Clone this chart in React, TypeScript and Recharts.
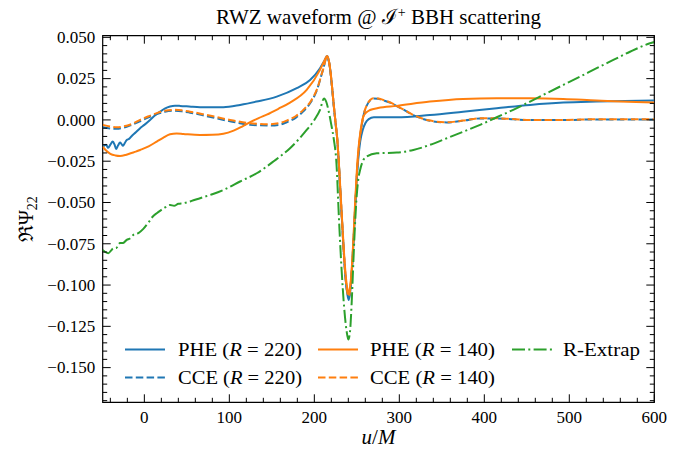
import React from 'react';
import { LineChart, Line, XAxis, YAxis, Legend, ReferenceArea } from 'recharts';

// ---------------- data ----------------
const phe220U = [-49, -45, -42.6, -40, -37.2, -35, -33.3, -31, -28.6, -27, -25.1, -23, -20.7, -18, -14.8, -10, -5, 0, 6.7, 12, 18.5, 24, 30.2, 36, 42, 55, 65.5, 80, 93, 112.6, 132, 155.8, 179.3, 195, 206.7, 212, 215, 217, 219, 221, 223, 225, 227, 229, 231, 233, 235, 237, 239, 240.5, 242, 244, 246, 248, 250, 252, 254, 257, 260, 264, 270, 297, 336, 375, 414.6, 453.8, 493, 532, 600];
const phe220V = [-0.0163, -0.0150, -0.0169, -0.0150, -0.0131, -0.0150, -0.0176, -0.0155, -0.0137, -0.0145, -0.0157, -0.0140, -0.0121, -0.0115, -0.0097, -0.0075, -0.0050, -0.0030, 0.0000, 0.0025, 0.0050, 0.0068, 0.0081, 0.0086, 0.0085, 0.0080, 0.0077, 0.0076, 0.0077, 0.0091, 0.0111, 0.0141, 0.0192, 0.0242, 0.0313, 0.0360, 0.0387, 0.0360, 0.0290, 0.0190, 0.0080, -0.0020, -0.0120, -0.0280, -0.0470, -0.0650, -0.0830, -0.0970, -0.1060, -0.1090, -0.1050, -0.0930, -0.0750, -0.0540, -0.0350, -0.0220, -0.0130, -0.0060, -0.0020, 0.0005, 0.0016, 0.0016, 0.0030, 0.0050, 0.0071, 0.0091, 0.0105, 0.0111, 0.0117];

const cce220U = [-49, -40, -32.5, -25, -15, -5, 5, 14.6, 24, 34, 44, 53.8, 73.4, 100.8, 124.4, 148, 160, 167.5, 178, 187, 196, 202.8, 210, 214.6, 217, 219, 221, 223, 225, 227, 229, 231, 233, 235, 237, 239, 240.5, 242, 244, 246, 248, 250, 252, 255, 258, 262, 266, 269.4, 275, 281, 290, 297, 306, 316.5, 326, 336, 355.8, 375, 395, 414.6, 434, 453.8, 493, 532, 600];
const cce220V = [-0.0045, -0.0052, -0.0054, -0.0048, -0.0030, -0.0008, 0.0015, 0.0035, 0.0049, 0.0055, 0.0052, 0.0044, 0.0023, -0.0008, -0.0030, -0.0034, -0.0028, -0.0014, 0.0012, 0.0052, 0.0108, 0.0177, 0.0300, 0.0375, 0.0355, 0.0290, 0.0190, 0.0080, -0.0020, -0.0120, -0.0280, -0.0470, -0.0650, -0.0830, -0.0970, -0.1050, -0.1075, -0.1040, -0.0920, -0.0740, -0.0530, -0.0340, -0.0190, -0.0060, 0.0030, 0.0090, 0.0120, 0.0129, 0.0128, 0.0119, 0.0103, 0.0084, 0.0059, 0.0029, 0.0009, -0.0005, -0.0015, -0.0005, 0.0009, 0.0009, 0.0004, -0.0001, -0.0001, 0.0003, 0.0003];

const phe140U = [-49, -45, -40, -34, -28.6, -22, -15, -10, -5, 5, 14.6, 22, 30.2, 38, 45.9, 65.5, 80, 93, 105, 115, 125, 135, 144, 158, 171.4, 191, 206.7, 212, 215, 217, 219, 221, 223, 225, 227, 229, 231, 233, 235, 237, 239, 240.5, 242, 244, 246, 248, 250, 252, 254, 257.6, 261, 265.5, 275, 297, 336, 375, 414.6, 453.8, 493, 532, 600];
const phe140V = [-0.0162, -0.0185, -0.0205, -0.0215, -0.0218, -0.0212, -0.0200, -0.0192, -0.0182, -0.0160, -0.0131, -0.0108, -0.0087, -0.0082, -0.0085, -0.0091, -0.0090, -0.0084, -0.0065, -0.0040, -0.0012, 0.0012, 0.0032, 0.0068, 0.0105, 0.0182, 0.0303, 0.0360, 0.0387, 0.0362, 0.0295, 0.0195, 0.0085, -0.0015, -0.0115, -0.0270, -0.0455, -0.0635, -0.0810, -0.0945, -0.1025, -0.1050, -0.1015, -0.0900, -0.0720, -0.0500, -0.0310, -0.0170, -0.0080, 0.0020, 0.0045, 0.0060, 0.0072, 0.0085, 0.0111, 0.0127, 0.0131, 0.0131, 0.0127, 0.0117, 0.0105];

const cce140U = [-49, -40, -32.5, -25, -15, -5, 5, 14.6, 24, 34, 44, 53.8, 73.4, 100.8, 124.4, 148, 160, 167.5, 178, 187, 196, 202.8, 210, 214.6, 217, 219, 221, 223, 225, 227, 229, 231, 233, 235, 237, 239, 240.5, 242, 244, 246, 248, 250, 252, 255, 258, 262, 266, 269.4, 275, 281, 290, 297, 306, 316.5, 326, 336, 355.8, 375, 395, 414.6, 434, 453.8, 493, 532, 600];
const cce140V = [-0.0030, -0.0040, -0.0044, -0.0040, -0.0025, 0.0000, 0.0022, 0.0041, 0.0055, 0.0061, 0.0058, 0.0050, 0.0030, 0.0000, -0.0020, -0.0026, -0.0018, -0.0004, 0.0022, 0.0061, 0.0115, 0.0182, 0.0300, 0.0373, 0.0355, 0.0290, 0.0190, 0.0080, -0.0020, -0.0120, -0.0280, -0.0470, -0.0650, -0.0830, -0.0970, -0.1050, -0.1070, -0.1035, -0.0915, -0.0735, -0.0525, -0.0335, -0.0185, -0.0055, 0.0032, 0.0092, 0.0122, 0.0131, 0.0130, 0.0121, 0.0105, 0.0085, 0.0060, 0.0030, 0.0010, -0.0004, -0.0014, -0.0004, 0.0010, 0.0010, 0.0005, 0.0000, 0.0000, 0.0004, 0.0004];

const extrapU = [-49, -46, -42.4, -39, -36.5, -33, -28.6, -25, -20.7, -17, -12.9, -7, -1.2, 5, 10, 14.6, 20, 25, 30.2, 35, 40, 45.9, 55, 65.5, 80, 93, 112.6, 132.2, 151.8, 171.4, 191, 200, 206.7, 211.4, 214, 217, 220, 223, 226, 229, 232, 235, 238, 240, 242, 244, 246, 248, 250, 252, 254, 258, 261.6, 273.4, 297, 316.5, 336, 355.8, 375.3, 395, 414.6, 434, 453.8, 473.4, 493, 512.6, 532.2, 551.8, 571.4, 594.9, 600];
const extrapV = [-0.0787, -0.0800, -0.0807, -0.0790, -0.0777, -0.0775, -0.0746, -0.0745, -0.0726, -0.0718, -0.0696, -0.0685, -0.0660, -0.0620, -0.0585, -0.0565, -0.0545, -0.0528, -0.0515, -0.0520, -0.0508, -0.0504, -0.0492, -0.0474, -0.0450, -0.0424, -0.0373, -0.0323, -0.0252, -0.0171, -0.0061, 0.0000, 0.0061, 0.0130, 0.0110, 0.0050, -0.0030, -0.0120, -0.0260, -0.0600, -0.0900, -0.1130, -0.1280, -0.1330, -0.1280, -0.1100, -0.0850, -0.0620, -0.0450, -0.0350, -0.0300, -0.0240, -0.0222, -0.0202, -0.0198, -0.0182, -0.0151, -0.0111, -0.0071, -0.0030, 0.0016, 0.0061, 0.0111, 0.0162, 0.0212, 0.0262, 0.0313, 0.0363, 0.0413, 0.0464, 0.0472];

const xMajorTicks = [0, 100, 200, 300, 400, 500, 600];
const yMajorTicks = [-0.15, -0.125, -0.1, -0.075, -0.05, -0.025, 0, 0.025, 0.05];
const xAllTicks = [-40, -20, 0, 20, 40, 60, 80, 100, 120, 140, 160, 180, 200, 220, 240, 260, 280, 300, 320, 340, 360, 380, 400, 420, 440, 460, 480, 500, 520, 540, 560, 580, 600];
const yAllTicks = Array.from({ length: 45 }, (_, i) => Math.round((i - 34) * 5) / 1000);

const titleParts = ['RWZ waveform @ ', 'ℐ', '+', ' BBH scattering'];
const legendNames = ['PHE', 'CCE', 'PHE', 'CCE', 'R-Extrap'];
const legendRadii = ['220', '220', '140', '140', ''];

// ---------------- layout / style ----------------
const W = 674;
const H = 444;
const MARGIN = { top: 27.7, right: 27.7, left: 0, bottom: 0 };
const Y_AXIS_W = 94.7;
const X_AXIS_H = 49.7;
const PLOT_W = W - Y_AXIS_W - MARGIN.right;
const PLOT_H = H - MARGIN.top - X_AXIS_H;
const X_DOMAIN: [number, number] = [-49, 600];
const Y_DOMAIN: [number, number] = [-0.171, 0.051];
const FONT = '"Liberation Serif", "DejaVu Serif", serif';
const BLUE = '#1f77b4';
const ORANGE = '#ff7f0e';
const GREEN = '#2ca02c';
const DASHED = '7.5 3.3';
const DASHDOT = '13 3.3 2 3.3';
const MAJOR_LEN = 8;
const MINOR_LEN = 4.5;

const rows = (u: number[], v: number[]) => u.map((x, i) => ({ u: x, v: v[i] }));

const series = [
  { key: 'phe220', data: rows(phe220U, phe220V), color: BLUE, dash: undefined as string | undefined },
  { key: 'cce220', data: rows(cce220U, cce220V), color: BLUE, dash: DASHED },
  { key: 'phe140', data: rows(phe140U, phe140V), color: ORANGE, dash: undefined },
  { key: 'cce140', data: rows(cce140U, cce140V), color: ORANGE, dash: DASHED },
  { key: 'extrap', data: rows(extrapU, extrapV), color: GREEN, dash: DASHDOT },
];

const isMajor = (list: number[], v: number) => list.some((t) => Math.abs(t - v) < 1e-9);
const fmtY = (v: number) => (v < 0 ? '\u2212' + Math.abs(v).toFixed(3) : v.toFixed(3));

const XTick = (props: any) => {
  const { x, y, payload } = props;
  const major = isMajor(xMajorTicks, payload.value);
  const len = major ? MAJOR_LEN : MINOR_LEN;
  const top = y - PLOT_H;
  return (
    <g>
      <line x1={x} x2={x} y1={y} y2={y - len} stroke="#000" strokeWidth={1} />
      <line x1={x} x2={x} y1={top} y2={top + len} stroke="#000" strokeWidth={1} />
      {major && (
        <text x={x} y={y + 20.5} textAnchor="middle" fontFamily={FONT} fontSize={17} fill="#000">
          {String(payload.value)}
        </text>
      )}
    </g>
  );
};

const YTick = (props: any) => {
  const { x, y, payload } = props;
  const major = isMajor(yMajorTicks, payload.value);
  const len = major ? MAJOR_LEN : MINOR_LEN;
  const right = x + PLOT_W;
  return (
    <g>
      <line x1={x} x2={x + len} y1={y} y2={y} stroke="#000" strokeWidth={1} />
      <line x1={right} x2={right - len} y1={y} y2={y} stroke="#000" strokeWidth={1} />
      {major && (
        <text x={x - 7.5} y={y + 5.8} textAnchor="end" fontFamily={FONT} fontSize={17} fill="#000">
          {fmtY(payload.value)}
        </text>
      )}
    </g>
  );
};

const XLabel = (props: any) => {
  const vb = props.viewBox || {};
  const cx = vb.x + vb.width / 2;
  return (
    <text x={cx} y={vb.y + 42} textAnchor="middle" fontFamily={FONT} fontSize={21} fill="#000">
      <tspan fontStyle="italic">u</tspan>/<tspan fontStyle="italic">M</tspan>
    </text>
  );
};

const YLabel = (props: any) => {
  const vb = props.viewBox || {};
  const cy = vb.y + vb.height / 2;
  const x0 = 25;
  return (
    <text x={x0} y={cy} transform={`rotate(-90 ${x0} ${cy})`} textAnchor="middle" fontFamily={FONT} fontSize={20} fill="#000">
      {'\u211C\u03A8'}
      <tspan fontSize={14} dy={4}>22</tspan>
    </text>
  );
};

const legendPos = [
  { lx: 117, tx: 170, ty: 341.5, tw: 124 },
  { lx: 117, tx: 170, ty: 369.5, tw: 124 },
  { lx: 310, tx: 362, ty: 341.5, tw: 125 },
  { lx: 310, tx: 362, ty: 369.5, tw: 125 },
  { lx: 504, tx: 555, ty: 341.5, tw: 77 },
];

const LegendContent = () => (
  <svg width={W} height={H} style={{ position: 'absolute', left: 0, top: 0 }}>
    {series.map((s, i) => {
      const p = legendPos[i];
      return (
        <g key={s.key}>
          <line x1={p.lx} x2={p.lx + 40} y1={p.ty} y2={p.ty} stroke={s.color} strokeWidth={2} strokeDasharray={s.dash} />
          <text x={p.tx} y={p.ty + 6} fontFamily={FONT} fontSize={18} fill="#000" textLength={p.tw} lengthAdjust="spacingAndGlyphs">
            {legendRadii[i] ? (
              <>
                {legendNames[i]} (<tspan fontStyle="italic">R</tspan> = {legendRadii[i]})
              </>
            ) : (
              legendNames[i]
            )}
          </text>
        </g>
      );
    })}
  </svg>
);

export default function App() {
  return (
    <div style={{ width: W, height: H, position: 'relative' }}>
      <svg width={W} height={28} style={{ position: 'absolute', left: 0, top: 0, overflow: 'visible' }}>
        <text x={Y_AXIS_W + PLOT_W / 2} y={16} textAnchor="middle" fontFamily={FONT} fontSize={21} fill="#000">
          {titleParts[0]}
          {titleParts[1]}
          <tspan fontSize={14} baselineShift="super">{titleParts[2]}</tspan>
          <tspan>{titleParts[3]}</tspan>
        </text>
      </svg>
      <LineChart width={W} height={H} margin={MARGIN}>
        <XAxis
          xAxisId="x"
          dataKey="u"
          type="number"
          domain={X_DOMAIN}
          allowDataOverflow
          ticks={xAllTicks}
          interval={0}
          tickSize={0}
          tickMargin={0}
          tickLine={false}
          axisLine={false}
          height={X_AXIS_H}
          tick={<XTick />}
          label={<XLabel />}
        />
        <YAxis
          yAxisId="y"
          type="number"
          domain={Y_DOMAIN}
          allowDataOverflow
          ticks={yAllTicks}
          interval={0}
          tickSize={0}
          tickMargin={0}
          tickLine={false}
          axisLine={false}
          width={Y_AXIS_W}
          tick={<YTick />}
          label={<YLabel />}
        />
        {series.map((s) => (
          <Line
            key={s.key}
            xAxisId="x"
            yAxisId="y"
            data={s.data}
            dataKey="v"
            type="monotone"
            stroke={s.color}
            strokeWidth={2}
            strokeDasharray={s.dash}
            dot={false}
            activeDot={false}
            isAnimationActive={false}
          />
        ))}
        <ReferenceArea
          xAxisId="x"
          yAxisId="y"
          x1={X_DOMAIN[0]}
          x2={X_DOMAIN[1]}
          y1={Y_DOMAIN[0]}
          y2={Y_DOMAIN[1]}
          fill="none"
          fillOpacity={0}
          stroke="#000"
          strokeWidth={1.2}
          ifOverflow="visible"
        />
        <Legend
          layout="horizontal"
          verticalAlign="middle"
          align="center"
          content={<LegendContent />}
          wrapperStyle={{ position: 'absolute', left: 0, top: 0, width: W, height: H, pointerEvents: 'none' }}
        />
      </LineChart>
    </div>
  );
}
